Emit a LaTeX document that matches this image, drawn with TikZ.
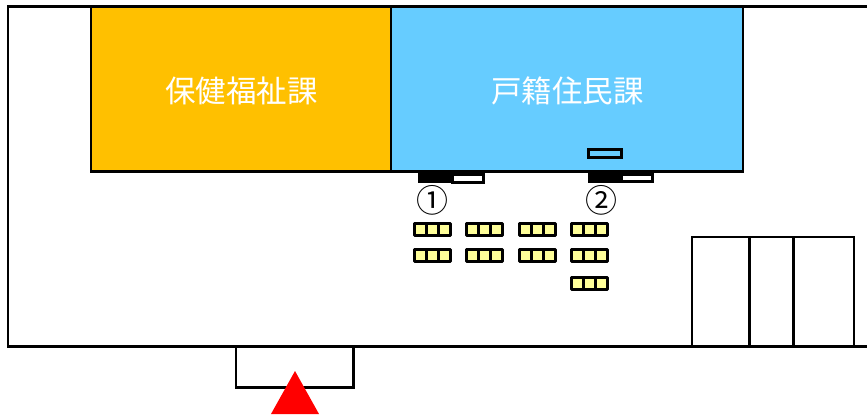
\documentclass[tikz,border=0pt]{standalone}
\usepackage{fontspec}
\newfontfamily\cjk{Noto Sans CJK JP}
\definecolor{roomorange}{HTML}{FFC000}
\definecolor{roomblue}{HTML}{66CCFF}
\definecolor{seatyellow}{HTML}{FFFF99}
\tikzset{
  x=1bp,y=-1bp,
  wall/.style={draw=black,line width=2.7bp,line join=miter},
  roomlabel/.style={text=white,font=\cjk\fontsize{30.5bp}{31bp}\selectfont,inner sep=0pt},
  numlabel/.style={text=black,font=\cjk\fontsize{32bp}{32bp}\selectfont,inner sep=0pt},
  seatcell/.style={draw=black,fill=seatyellow,line width=3bp,line join=round},
  thinbox/.style={draw=black,fill=white,line width=3bp},
}
\newcommand{\seatgroup}[2]{%
  \draw[seatcell] (#1,#2) rectangle ++(12,12);
  \draw[seatcell] (#1+12,#2) rectangle ++(12,12);
  \draw[seatcell] (#1+24,#2) rectangle ++(12,12);
}
\begin{document}
\begin{tikzpicture}
\useasboundingbox (0,0) rectangle (867,416);
\fill[white] (0,0) rectangle (867,416);
% entrance
\draw[wall] (236,346.7) rectangle (353.7,387.7);
% outer walls
\draw[wall] (867,6.3) -- (8,6.3) -- (8,346.7) -- (867,346.7);
% rooms
\draw[wall,fill=roomorange] (91,6.3) rectangle (391,171.7);
\draw[wall,fill=roomblue] (391,6.3) rectangle (743,171.7);
\node[roomlabel] (welfare) at (241.5,91) {保健福祉課};
\node[roomlabel] (family) at (567.5,91) {戸籍住民課};
% counters
\fill[black] (418,172) rectangle (451,182.5);
\draw[thinbox] (452,174) rectangle (483,182);
\fill[black] (588,172) rectangle (621,182.5);
\draw[thinbox] (621,174) rectangle (652.5,181);
\draw[draw=black,fill=roomblue,line width=3bp] (588,149) rectangle (621,157.5);
\node[numlabel] (one) at (432.5,200) {①};
\node[numlabel] (two) at (601.5,200) {②};
% seats
\seatgroup{414}{223}
\seatgroup{466.5}{223}
\seatgroup{519}{223}
\seatgroup{571.2}{223}
\seatgroup{414}{249}
\seatgroup{466.5}{249}
\seatgroup{519}{249}
\seatgroup{571.2}{249}
\seatgroup{571.2}{277}
% right block
\draw[wall] (692,346.7) -- (692,237) -- (854,237) -- (854,346.7);
\draw[wall] (749.5,237) -- (749.5,346.7);
\draw[wall] (793.5,237) -- (793.5,346.7);
% entrance marker
\fill[red] (295,371) -- (319,414) -- (271,414) -- cycle;
\end{tikzpicture}
\end{document}
